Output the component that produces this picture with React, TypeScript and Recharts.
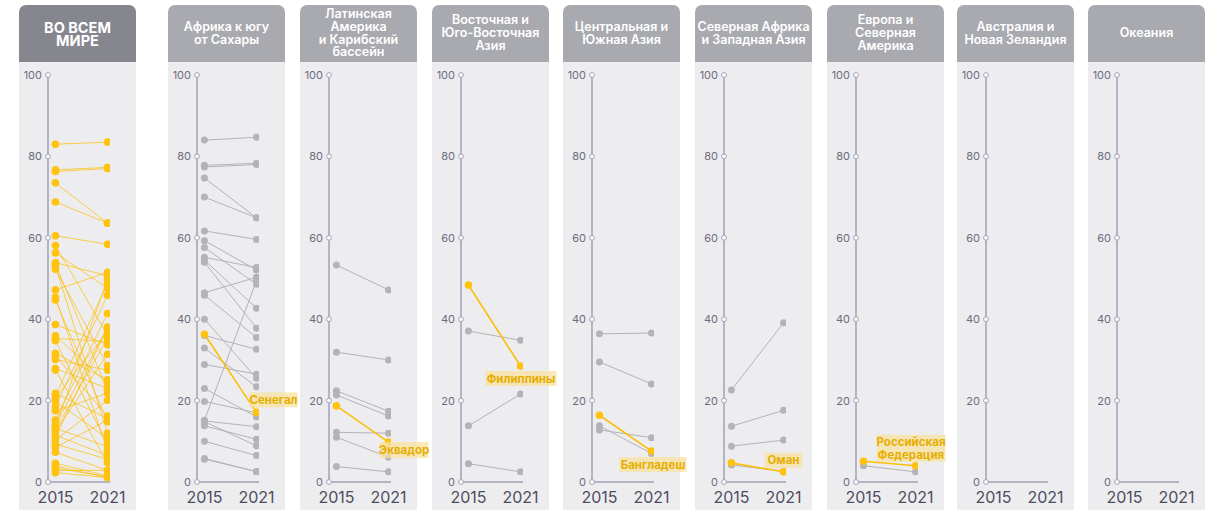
import React from 'react';
import { LineChart, Line, XAxis, YAxis, LabelList } from 'recharts';

const YEARS = [2015, 2021];
const Y_TICKS = [0, 20, 40, 60, 80, 100];

const TITLES = [
  'ВО ВСЕМ\nМИРЕ',
  'Африка к югу\nот Сахары',
  'Латинская\nАмерика\nи Карибский\nбассейн',
  'Восточная и\nЮго-Восточная\nАзия',
  'Центральная и\nЮжная Азия',
  'Северная Африка\nи Западная Азия',
  'Европа и\nСеверная\nАмерика',
  'Австралия и\nНовая Зеландия',
  'Океания',
];

// each pair: [2015, 2021]
const WORLD: number[][] = [
  [83, 83.5], [76.7, 77.3], [76.3, 77], [73.5, 63.6], [68.8, 63.6], [60.5, 58.4],
  [58.1, 36.1], [56.3, 47.6], [53.9, 50.7], [53.6, 22.4], [53.1, 12], [52.3, 28.6],
  [47.2, 51.5], [45.4, 7.7], [44.7, 14.8], [38.7, 33.7], [35.9, 24.3], [35.3, 34.5],
  [34.7, 9.3], [31.6, 25.1], [31, 16.2], [30.1, 27.5], [27.9, 23], [27.5, 4.7],
  [21.8, 15.6], [21.2, 48.8], [20.8, 36.9], [19.8, 10.7], [18.5, 45.9], [17.5, 21.8],
  [15.2, 41.4], [14, 38], [13.5, 49.8], [13.2, 8.7], [12.8, 35.3], [12.4, 31.4],
  [11.5, 6.5], [11, 38], [10.3, 20.1], [9.3, 5.6], [8.5, 15.2], [7.3, 2.9],
  [4.6, 1.5], [3.9, 1.1], [3.4, 1.3], [2.8, 2.9], [2.3, 1.1],
];

const AFRICA: number[][] = [
  [84, 84.7], [77.8, 78.3], [77.4, 78], [74.7, 64.9], [70, 64.9], [61.7, 59.6],
  [59.3, 52.1], [57.6, 48.6], [55.2, 52.7], [54.5, 42.7], [54, 37.8], [46.5, 50.3],
  [45.9, 35.5], [40, 25.5], [36, 32.6], [32.9, 23.4], [28.9, 26.5], [23, 16],
  [19.8, 17], [15.2, 49.5], [15, 13.6], [14.8, 8.9], [13.8, 10.5], [10, 6.5],
  [5.8, 2.5], [5.6, 2.6],
];

const LATAM: number[][] = [
  [53.3, 47.2], [31.9, 30], [22.4, 17.4], [21.4, 16.2], [12.2, 12], [11, 6.1], [3.8, 2.5],
];

const EAST_ASIA: number[][] = [[37.1, 34.8], [13.8, 21.6], [4.5, 2.5]];

const CENTRAL_ASIA: number[][] = [[36.4, 36.6], [29.5, 24.1], [13.8, 7], [12.8, 10.9]];

const NAWA: number[][] = [[22.6, 39.1], [13.7, 17.6], [8.8, 10.3], [4.2, 2.6]];

const EUROPE: number[][] = [[4, 2.5]];

const SERIES = [WORLD, AFRICA, LATAM, EAST_ASIA, CENTRAL_ASIA, NAWA, EUROPE, [], []];

const HIGHLIGHT_NAMES = ['', 'Сенегал', 'Эквадор', 'Филиппины', 'Бангладеш', 'Оман', 'Российская\nФедерация', '', ''];
const HIGHLIGHT_VALUES: (number[] | null)[] = [
  null, [36.3, 17.1], [18.7, 9.8], [48.4, 28.5], [16.4, 7.6], [4.7, 2.5], [5.1, 4.0], null, null,
];

// label box offsets relative to the 2021 point
const LABEL_BOX = [
  null,
  { dx: -7, dy: -20, w: 48, h: 15 },
  { dx: -9, dy: 0, w: 49, h: 16 },
  { dx: -35, dy: 5, w: 71, h: 15 },
  { dx: -32, dy: 6, w: 67, h: 15 },
  { dx: -19, dy: -19, w: 38, h: 15 },
  { dx: -39, dy: -31, w: 69, h: 27 },
  null,
  null,
];

const PANEL_LEFT = [19, 168, 300, 432, 563, 695, 827, 957, 1088];
const PANEL_W = 117;

const YELLOW = '#FDBE0A';
const GRAY = '#B3B3B8';
const AXIS = '#A2A1B7';

const YTick = (props: any) => {
  const { x, y, payload } = props;
  return (
    <g>
      <text x={x - 6} y={y} dy={4} textAnchor="end" fontSize={11} fill="#6c6c7e">
        {payload.value}
      </text>
      <circle cx={x} cy={y} r={2.4} fill="#fff" stroke={AXIS} strokeWidth={1} />
    </g>
  );
};

const makeLabel = (i: number) => (props: any) => {
  const { x, y, index } = props;
  const box = LABEL_BOX[i];
  if (index !== 1 || !box) return null;
  const left = x + box.dx;
  const top = y + box.dy;
  const lines = HIGHLIGHT_NAMES[i].split('\n');
  return (
    <g>
      <rect x={left} y={top} width={box.w} height={box.h} fill="#F8E1A0" fillOpacity={0.75} />
      {lines.map((t, k) => (
        <text
          key={k}
          x={left + box.w / 2}
          y={top + 11.5 + k * 12.5}
          textAnchor="middle"
          fontSize={11.5}
          fontWeight={700}
          fill="#E6AE00"
        >
          {t}
        </text>
      ))}
    </g>
  );
};

function Panel({ i }: { i: number }) {
  const series = SERIES[i];
  const hl = HIGHLIGHT_VALUES[i];
  const isWorld = i === 0;
  const rows = YEARS.map((year, k) => {
    const row: any = { year };
    series.forEach((s, j) => (row['s' + j] = s[k]));
    if (hl) row.hl = hl[k];
    return row;
  });
  const lineColor = isWorld ? YELLOW : GRAY;

  return (
    <div style={{ position: 'absolute', left: PANEL_LEFT[i], top: 0, width: PANEL_W, height: 511 }}>
      <div
        style={{
          position: 'absolute',
          top: 5,
          left: 0,
          width: PANEL_W,
          height: 57,
          background: isWorld ? '#86868F' : '#A9A9B0',
          borderRadius: '7px 7px 0 0',
          display: 'flex',
          alignItems: 'center',
          justifyContent: 'center',
          textAlign: 'center',
          whiteSpace: 'pre-line',
          color: '#fff',
          fontWeight: isWorld ? 700 : 600,
          fontSize: isWorld ? 14.5 : 12.5,
          lineHeight: isWorld ? '13px' : '12.8px',
        }}
      >
        {TITLES[i]}
      </div>
      <div style={{ position: 'absolute', top: 62, left: 0, width: PANEL_W, height: 448, background: '#EDEDEF' }}>
        <LineChart width={PANEL_W} height={448} data={rows} margin={{ top: 13, right: 26, bottom: 0, left: 0 }}>
          <XAxis
            dataKey="year"
            type="number"
            domain={[2014.143, 2021.286]}
            allowDataOverflow
            ticks={YEARS}
            interval={0}
            tickLine={false}
            tickSize={0}
            tickMargin={10}
            height={28}
            axisLine={{ stroke: AXIS, strokeWidth: 1.5 }}
            tick={{ fontSize: 16, fill: '#4d4d5f' }}
          />
          <YAxis
            type="number"
            domain={[0, 100]}
            allowDataOverflow
            ticks={Y_TICKS}
            interval={0}
            width={29}
            tickLine={false}
            tickSize={0}
            tickMargin={0}
            axisLine={{ stroke: AXIS, strokeWidth: 1.5 }}
            tick={<YTick />}
          />
          {series.length === 0 && (
            <Line dataKey="hl" stroke="none" dot={false} activeDot={false} isAnimationActive={false} />
          )}
          {series.map((_, j) => (
            <Line
              key={j}
              dataKey={'s' + j}
              stroke={lineColor}
              strokeWidth={isWorld ? 0.9 : 1}
              strokeOpacity={isWorld ? 0.8 : 1}
              dot={{ r: isWorld ? 3.8 : 3.5, fill: isWorld ? '#FFC20E' : GRAY, stroke: 'none' }}
              isAnimationActive={false}
            />
          ))}
          {hl && (
            <Line
              dataKey="hl"
              stroke={YELLOW}
              strokeWidth={1.6}
              dot={{ r: 3.8, fill: '#FFC20E', stroke: 'none' }}
              isAnimationActive={false}
            >
              <LabelList dataKey="hl" content={makeLabel(i)} />
            </Line>
          )}
        </LineChart>
      </div>
    </div>
  );
}

export default function App() {
  return (
    <div
      style={{
        position: 'absolute',
        left: 0,
        top: 0,
        width: 1209,
        height: 511,
        background: '#fff',
        fontFamily: 'Inter, "Noto Sans", sans-serif',
        overflow: 'hidden',
      }}
    >
      <style>{`.recharts-surface { overflow: visible; } .recharts-wrapper { overflow: visible; }`}</style>
      {TITLES.map((_, i) => (
        <Panel key={i} i={i} />
      ))}
    </div>
  );
}
